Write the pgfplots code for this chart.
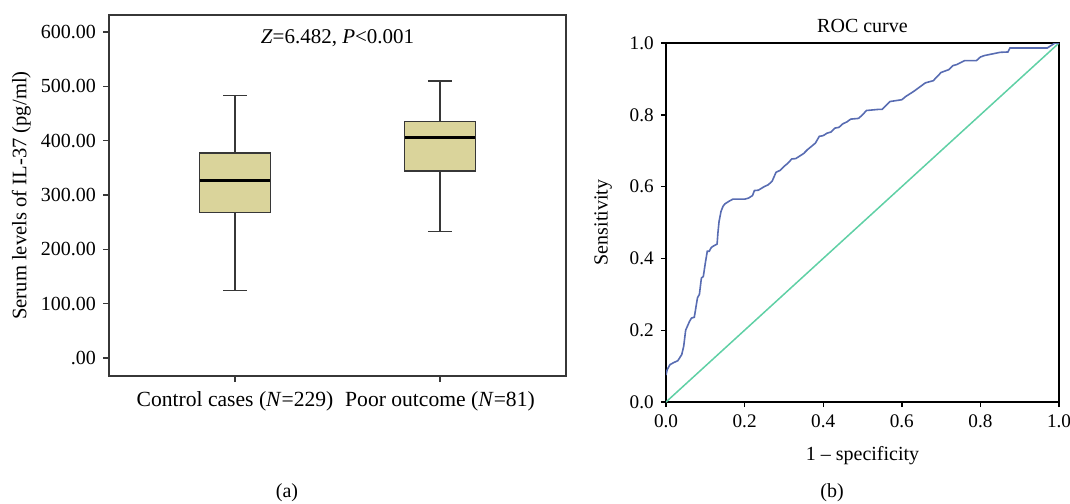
\documentclass[border=0pt]{standalone}
\usepackage{fontspec}
\setmainfont{Liberation Serif}
\usepackage{pgfplots}
\pgfplotsset{compat=1.18}
\definecolor{boxfill}{RGB}{218,212,155}
\definecolor{boxedge}{RGB}{55,55,55}
\definecolor{rocblue}{RGB}{88,108,178}
\definecolor{rocgreen}{RGB}{95,208,165}
\begin{document}
\begin{tikzpicture}
\path[use as bounding box] (0,0) rectangle (535pt,-251.5pt);
% ---------------- panel (a) ----------------
\begin{axis}[
  at={(54.5pt,-188pt)}, anchor=south west,
  scale only axis, width=228.5pt, height=180.5pt,
  xmin=0.385, xmax=2.615, ymin=-33.1, ymax=631.3,
  axis line style={boxedge, line width=0.7pt},
  tick style={boxedge, line width=0.7pt},
  tick align=outside, major tick length=3pt,
  xtick={1,2}, xtick pos=bottom, ytick pos=left,
  xticklabels={Control cases (\textit{N}=229), Poor outcome (\textit{N}=81)},
  ytick={0,100,200,300,400,500,600},
  yticklabels={.00,100.00,200.00,300.00,400.00,500.00,600.00},
  tick label style={font=\fontsize{10}{12}\selectfont},
  xticklabel style={font=\fontsize{10.8}{12}\selectfont, yshift=-1pt},
  ylabel={Serum levels of IL-37 (pg/ml)},
  ylabel style={at={(axis description cs:-0.192,0.5)}, anchor=center, font=\fontsize{10.3}{12}\selectfont},
]
% Control cases: whiskers 124 / 483, Q1 268, median 327, Q3 377
\addplot[boxedge, line width=0.7pt, mark=none] coordinates {(1,377) (1,483)};
\addplot[boxedge, line width=0.7pt, mark=none] coordinates {(1,268) (1,124)};
\addplot[boxedge, line width=0.7pt, mark=none] coordinates {(0.9415,483) (1.0585,483)};
\addplot[boxedge, line width=0.7pt, mark=none] coordinates {(0.9415,124) (1.0585,124)};
\addplot[draw=boxedge, fill=boxfill, line width=0.7pt, mark=none]
  coordinates {(0.827,268) (1.173,268) (1.173,377) (0.827,377)} -- cycle;
\addplot[black, line width=1.5pt, mark=none] coordinates {(0.827,327) (1.173,327)};
% Poor outcome: whiskers 233 / 510, Q1 344, median 406, Q3 435
\addplot[boxedge, line width=0.7pt, mark=none] coordinates {(2,435) (2,510)};
\addplot[boxedge, line width=0.7pt, mark=none] coordinates {(2,344) (2,233)};
\addplot[boxedge, line width=0.7pt, mark=none] coordinates {(1.9415,510) (2.0585,510)};
\addplot[boxedge, line width=0.7pt, mark=none] coordinates {(1.9415,233) (2.0585,233)};
\addplot[draw=boxedge, fill=boxfill, line width=0.7pt, mark=none]
  coordinates {(1.827,344) (2.173,344) (2.173,435) (1.827,435)} -- cycle;
\addplot[black, line width=1.5pt, mark=none] coordinates {(1.827,406) (2.173,406)};
\node[font=\fontsize{10.5}{12}\selectfont] at (axis description cs:0.5,0.936)
  {\textit{Z}=6.482, \textit{P}<0.001};
\end{axis}
\node[font=\fontsize{10}{12}\selectfont] at (143.5pt,-246.5pt) {(a)};
% ---------------- panel (b) ----------------
\begin{axis}[
  at={(333pt,-201pt)}, anchor=south west,
  scale only axis, width=196.5pt, height=179.5pt,
  xmin=0, xmax=1, ymin=0, ymax=1,
  axis line style={black, line width=0.7pt},
  tick style={black, line width=0.7pt},
  tick align=outside, major tick length=2.6pt,
  xtick={0,0.2,0.4,0.6,0.8,1.0}, ytick={0,0.2,0.4,0.6,0.8,1.0},
  xtick pos=bottom, ytick pos=left,
  tick label style={font=\fontsize{9.6}{12}\selectfont},
  /pgf/number format/assume math mode=true,
  xticklabel style={/pgf/number format/.cd, fixed, fixed zerofill, precision=1},
  yticklabel style={/pgf/number format/.cd, fixed, fixed zerofill, precision=1},
  title={ROC curve},
  every axis title shift=0pt,
  title style={at={(axis description cs:0.5,1.047)}, anchor=center, font=\fontsize{10}{12}\selectfont},
  xlabel={1 -- specificity},
  xlabel style={at={(axis description cs:0.5,-0.148)}, anchor=center, font=\fontsize{10}{12}\selectfont},
  ylabel={Sensitivity},
  ylabel style={at={(axis description cs:-0.160,0.5)}, anchor=center, font=\fontsize{10}{12}\selectfont},
]
\addplot[rocgreen, line width=0.75pt, mark=none] coordinates {(0,0) (1,1)};
\addplot[rocblue, line width=0.8pt, mark=none] coordinates {
(0,0.075) (0.003,0.09) (0.01,0.104) (0.02,0.11) (0.03,0.115) (0.04,0.132)
(0.045,0.155) (0.05,0.2) (0.06,0.225) (0.065,0.234) (0.072,0.236)
(0.08,0.29) (0.085,0.30) (0.09,0.345) (0.095,0.35) (0.1,0.387) (0.105,0.42)
(0.11,0.42) (0.115,0.43) (0.12,0.434) (0.13,0.44) (0.132,0.47) (0.135,0.503)
(0.14,0.531) (0.145,0.545) (0.15,0.552) (0.16,0.559) (0.17,0.565) (0.2,0.565)
(0.21,0.568) (0.22,0.575) (0.225,0.589) (0.235,0.59) (0.25,0.6) (0.26,0.605)
(0.27,0.615) (0.28,0.64) (0.29,0.645) (0.3,0.656) (0.31,0.665) (0.32,0.677)
(0.33,0.678) (0.34,0.685) (0.35,0.692) (0.36,0.703) (0.37,0.712) (0.38,0.721)
(0.39,0.74) (0.4,0.742) (0.41,0.749) (0.42,0.752) (0.43,0.763) (0.44,0.765)
(0.45,0.775) (0.46,0.78) (0.47,0.788) (0.49,0.79) (0.5,0.8) (0.51,0.812)
(0.54,0.815) (0.55,0.815) (0.57,0.837) (0.6,0.842) (0.61,0.851) (0.63,0.865)
(0.66,0.889) (0.68,0.895) (0.7,0.918) (0.72,0.926) (0.73,0.937) (0.74,0.94)
(0.76,0.951) (0.79,0.951) (0.8,0.961) (0.81,0.965) (0.85,0.974) (0.87,0.975)
(0.875,0.986) (0.97,0.986) (0.99,1.0) (1,1)};
\end{axis}
\node[font=\fontsize{10}{12}\selectfont] at (416pt,-246.5pt) {(b)};
\end{tikzpicture}
\end{document}
